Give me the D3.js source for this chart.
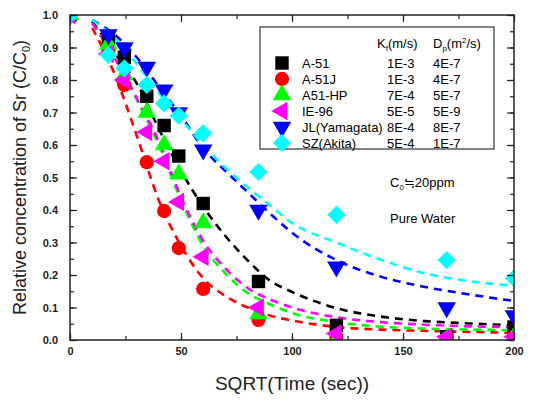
<!DOCTYPE html>
<html>
<head>
<meta charset="utf-8">
<script src="https://cdn.jsdelivr.net/npm/d3@7"></script>
<style>
  body { margin: 0; background: #fff; }
  text { font-family: "Liberation Sans", Arial, sans-serif; }
</style>
</head>
<body>
<div id="chart"></div>
<script>
// ********* data

// measurement times (sqrt of seconds)
var pointX = [0, 17.3, 24.5, 34.6, 42.4, 49, 60, 84.9, 120, 169.7, 200];

var a51Points    = [1.0, 0.92, 0.87, 0.75, 0.66, 0.566, 0.42, 0.18, 0.045, 0.01, 0.04];
var a51jPoints   = [1.0, 0.89, 0.785, 0.547, 0.397, 0.283, 0.157, 0.062, 0.01, 0.005, 0.01];
var a51hpPoints  = [1.0, 0.91, 0.815, 0.70, 0.60, 0.51, 0.36, 0.08, 0.0, 0.0, 0.01];
var ie96Points   = [1.0, 0.88, 0.80, 0.64, 0.55, 0.425, 0.256, 0.10, 0.02, 0.01, 0.01];
var jlPoints     = [1.0, 0.94, 0.90, 0.84, 0.77, 0.70, 0.585, 0.40, 0.225, 0.10, 0.075];
var szPoints     = [1.0, 0.877, 0.836, 0.785, 0.728, 0.69, 0.636, 0.517, 0.385, 0.246, 0.19];

// fitted (dashed) curves, read at these x
var curveX = [10, 20, 30, 40, 50, 60, 70, 80, 90, 100, 120, 140, 160, 180, 200];

var a51Curve   = [0.98, 0.885, 0.79, 0.65, 0.52, 0.41, 0.32, 0.245, 0.183, 0.148, 0.098, 0.072, 0.058, 0.051, 0.045];
var a51jCurve  = [0.96, 0.82, 0.63, 0.43, 0.29, 0.19, 0.135, 0.10, 0.075, 0.06, 0.04, 0.032, 0.028, 0.025, 0.022];
var a51hpCurve = [0.975, 0.87, 0.74, 0.60, 0.43, 0.29, 0.205, 0.145, 0.11, 0.083, 0.055, 0.041, 0.035, 0.032, 0.03];
var ie96Curve  = [0.975, 0.87, 0.745, 0.61, 0.44, 0.305, 0.22, 0.16, 0.125, 0.10, 0.07, 0.055, 0.047, 0.042, 0.04];
var jlCurve    = [0.985, 0.94, 0.87, 0.78, 0.69, 0.59, 0.52, 0.455, 0.39, 0.33, 0.246, 0.195, 0.163, 0.14, 0.12];
var szCurve    = [0.985, 0.93, 0.85, 0.76, 0.68, 0.60, 0.53, 0.47, 0.415, 0.36, 0.30, 0.247, 0.205, 0.181, 0.167];

var names  = ["A-51", "A-51J", "A51-HP", "IE-96", "JL(Yamagata)", "SZ(Akita)"];
var kfVals = ["1E-3", "1E-3", "7E-4", "5E-5", "8E-4", "5E-4"];
var dpVals = ["4E-7", "4E-7", "5E-7", "5E-9", "8E-7", "1E-7"];

var xTicks = [0, 50, 100, 150, 200];
var yTicks = [0, 0.1, 0.2, 0.3, 0.4, 0.5, 0.6, 0.7, 0.8, 0.9, 1.0];

// ********* layout

var width = 533
var height = 403
var margin = {left: 70, top: 15, right: 19, bottom: 63}
var plotW = width - margin.left - margin.right
var plotH = height - margin.top - margin.bottom

var colors = ["#000000", "#ff0000", "#00ff00", "#ff00ff", "#0000ff", "#00ffff"]
var shapes = ["square", "circle", "up", "left", "down", "diamond"]

var pointSets = [a51Points, a51jPoints, a51hpPoints, ie96Points, jlPoints, szPoints]
var curveSets = [a51Curve, a51jCurve, a51hpCurve, ie96Curve, jlCurve, szCurve]

var svg = d3.select("#chart")
  .append("svg")
    .attr("width", width)
    .attr("height", height)

var g = svg.append("g")
    .attr("transform", "translate(" + margin.left + "," + margin.top + ")")

var x = d3.scaleLinear().domain([0, 200]).range([0, plotW])
var y = d3.scaleLinear().domain([0, 1]).range([plotH, 0])

g.append("clipPath").attr("id", "plotclip")
  .append("rect").attr("width", plotW).attr("height", plotH)

// marker path for each shape type
function markerPath(shape) {
  if (shape == "square") return d3.symbol(d3.symbolSquare, 180)()
  if (shape == "circle") return d3.symbol(d3.symbolCircle, 160)()
  if (shape == "diamond") return d3.symbol(d3.symbolSquare, 165)()
  return d3.symbol(d3.symbolTriangle, 150)()
}
function markerRotate(shape) {
  if (shape == "left") return -90
  if (shape == "down") return 180
  if (shape == "diamond") return 45
  return 0
}

// ********* curves
var line = d3.line()
  .x(function(d) { return x(d[0]) })
  .y(function(d) { return y(d[1]) })
  .curve(d3.curveMonotoneX)

var plot = g.append("g").attr("clip-path", "url(#plotclip)")

curveSets.forEach(function(c, i) {
  plot.append("path")
    .datum(curveX.map(function(v, j) { return [v, c[j]] }))
    .attr("d", line)
    .attr("fill", "none")
    .attr("stroke", colors[i])
    .attr("stroke-width", 2.6)
    .attr("stroke-dasharray", "8,6")
})

// ********* points
pointSets.forEach(function(p, i) {
  plot.selectAll(".pt" + i)
    .data(pointX.map(function(v, j) { return [v, p[j]] }))
    .enter()
    .append("path")
    .attr("d", markerPath(shapes[i]))
    .attr("transform", function(d) {
      return "translate(" + x(d[0]) + "," + y(d[1]) + ") rotate(" + markerRotate(shapes[i]) + ")"
    })
    .attr("fill", colors[i])
})

// ********* axes (ticks inside, on all four sides)
var xMinor = d3.range(0, 201, 25)
var yMinor = d3.range(0, 1.001, 0.05)

g.append("g").attr("transform", "translate(0," + plotH + ")")
  .call(d3.axisTop(x).tickValues(xMinor).tickSize(4).tickFormat(""))
g.append("g").attr("transform", "translate(0," + plotH + ")")
  .call(d3.axisBottom(x).tickValues(xTicks).tickSize(0).tickPadding(7).tickFormat(d3.format("d")))
g.append("g").attr("transform", "translate(0," + plotH + ")")
  .call(d3.axisTop(x).tickValues(xTicks).tickSize(7).tickFormat(""))
g.append("g")
  .call(d3.axisBottom(x).tickValues(xMinor).tickSize(4).tickFormat(""))
g.append("g")
  .call(d3.axisBottom(x).tickValues(xTicks).tickSize(7).tickFormat(""))

g.append("g")
  .call(d3.axisRight(y).tickValues(yMinor).tickSize(4).tickFormat(""))
g.append("g")
  .call(d3.axisRight(y).tickValues(yTicks).tickSize(7).tickFormat(""))
g.append("g")
  .call(d3.axisLeft(y).tickValues(yTicks).tickSize(0).tickPadding(12).tickFormat(d3.format(".1f")))
g.append("g").attr("transform", "translate(" + plotW + ",0)")
  .call(d3.axisLeft(y).tickValues(yMinor).tickSize(4).tickFormat(""))
g.append("g").attr("transform", "translate(" + plotW + ",0)")
  .call(d3.axisLeft(y).tickValues(yTicks).tickSize(7).tickFormat(""))

g.selectAll(".domain").remove()
g.selectAll(".tick line").attr("stroke", "#222").attr("stroke-width", 1.2)
g.selectAll(".tick text")
  .attr("fill", "#222")
  .style("font-size", "11px")
  .style("font-weight", "bold")

g.append("rect")
  .attr("width", plotW)
  .attr("height", plotH)
  .attr("fill", "none")
  .attr("stroke", "#222")
  .attr("stroke-width", 1.5)

// ********* legend
var legend = svg.append("g")
legend.append("rect")
  .attr("x", 260).attr("y", 27)
  .attr("width", 234).attr("height", 122)
  .attr("fill", "#fff")
  .attr("stroke", "#333")
  .attr("stroke-width", 1.2)

var hdr1 = legend.append("text").attr("x", 377).attr("y", 48).style("font-size", "13px")
hdr1.append("tspan").text("K")
hdr1.append("tspan").text("f").style("font-size", "8px").attr("dy", 3)
hdr1.append("tspan").text("(m/s)").attr("dy", -3)
var hdr2 = legend.append("text").attr("x", 433).attr("y", 48).style("font-size", "13px")
hdr2.append("tspan").text("D")
hdr2.append("tspan").text("p").style("font-size", "8px").attr("dy", 3)
hdr2.append("tspan").text("(m").attr("dy", -3)
hdr2.append("tspan").text("2").style("font-size", "8px").attr("dy", -5)
hdr2.append("tspan").text("/s)").attr("dy", 5)

names.forEach(function(n, i) {
  var ry = 63 + i * 16
  legend.append("path")
    .attr("d", markerPath(shapes[i]))
    .attr("transform", "translate(282," + ry + ") rotate(" + markerRotate(shapes[i]) + ")")
    .attr("fill", colors[i])
  legend.append("text").attr("x", 302).attr("y", ry + 5).style("font-size", "13px").text(n)
  legend.append("text").attr("x", 387).attr("y", ry + 5).style("font-size", "13px").text(kfVals[i])
  legend.append("text").attr("x", 433).attr("y", ry + 5).style("font-size", "13px").text(dpVals[i])
})

// ********* notes
var c0 = svg.append("text").attr("x", 390).attr("y", 187).style("font-size", "13px")
c0.append("tspan").text("C")
c0.append("tspan").text("0").style("font-size", "8px").attr("dy", 3)
c0.append("tspan").text("≒20ppm").attr("dy", -3)
svg.append("text").attr("x", 390).attr("y", 223).style("font-size", "13px").text("Pure Water")

// ********* axis titles
svg.append("text")
  .attr("x", margin.left + plotW / 2)
  .attr("y", 390)
  .attr("text-anchor", "middle")
  .style("font-size", "19px")
  .attr("fill", "#222")
  .text("SQRT(Time (sec))")

var yt = svg.append("text")
  .attr("transform", "translate(26," + (margin.top + plotH / 2) + ") rotate(-90)")
  .attr("text-anchor", "middle")
  .style("font-size", "18px")
  .attr("fill", "#222")
yt.append("tspan").text("Relative concentration of Sr (C/C")
yt.append("tspan").text("0").style("font-size", "11px").attr("dy", 4)
yt.append("tspan").text(")").attr("dy", -4)
</script>
</body>
</html>
